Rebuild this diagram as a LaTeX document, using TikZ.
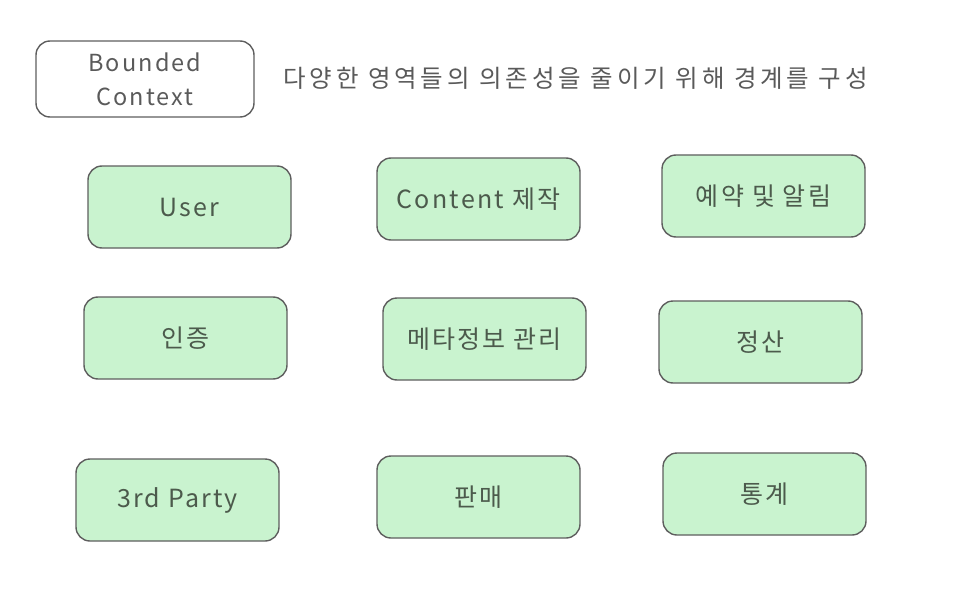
\documentclass[tikz,border=0pt]{standalone}
\usepackage{fontspec}
\setmainfont{Noto Sans CJK KR}[LetterSpace=9]
\newfontfamily\toptext{Noto Sans CJK KR}[LetterSpace=16]
\definecolor{fillc}{HTML}{C9F3CF}
\definecolor{strokec}{HTML}{5E5E5E}
\definecolor{labelc}{HTML}{4C5A4C}
\definecolor{greytext}{HTML}{5A5A5A}
\tikzset{
  dombox/.style={draw=strokec, fill=fillc, rounded corners=14pt, line width=1.4pt,
    minimum width=203pt, minimum height=82pt, text=labelc, inner sep=0pt,
    font=\fontsize{25}{29}\selectfont},
  legendbox/.style={draw=strokec, fill=white, rounded corners=14pt, line width=1.4pt,
    minimum width=218pt, minimum height=76pt, text=greytext, inner sep=0pt,
    align=center, font=\fontsize{23.5}{34}\selectfont},
  notetext/.style={text=greytext, anchor=west, inner sep=0pt,
    font=\toptext\fontsize{24.5}{28}\selectfont}
}
\begin{document}
\begin{tikzpicture}[x=1pt,y=-1pt]
\useasboundingbox (0,0) rectangle (977,599);
\node[legendbox] (legend) at (145,79) {Bounded\\Context};
\node[notetext] (desc) at (283,78) {다양한 영역들의 의존성을 줄이기 위해 경계를 구성};

\node[dombox] (user) at (189.5,207) {User};
\node[dombox] (content) at (478.5,199) {Content 제작};
\node[dombox] (reserve) at (763.5,196) {예약 및 알림};

\node[dombox] (auth) at (185.5,338) {인증};
\node[dombox] (meta) at (484.5,339) {메타정보 관리};
\node[dombox] (settle) at (760.5,342) {정산};

\node[dombox] (third) at (177.5,500) {3rd Party};
\node[dombox] (sales) at (478.5,497) {판매};
\node[dombox] (stats) at (764.5,494) {통계};
\end{tikzpicture}
\end{document}
